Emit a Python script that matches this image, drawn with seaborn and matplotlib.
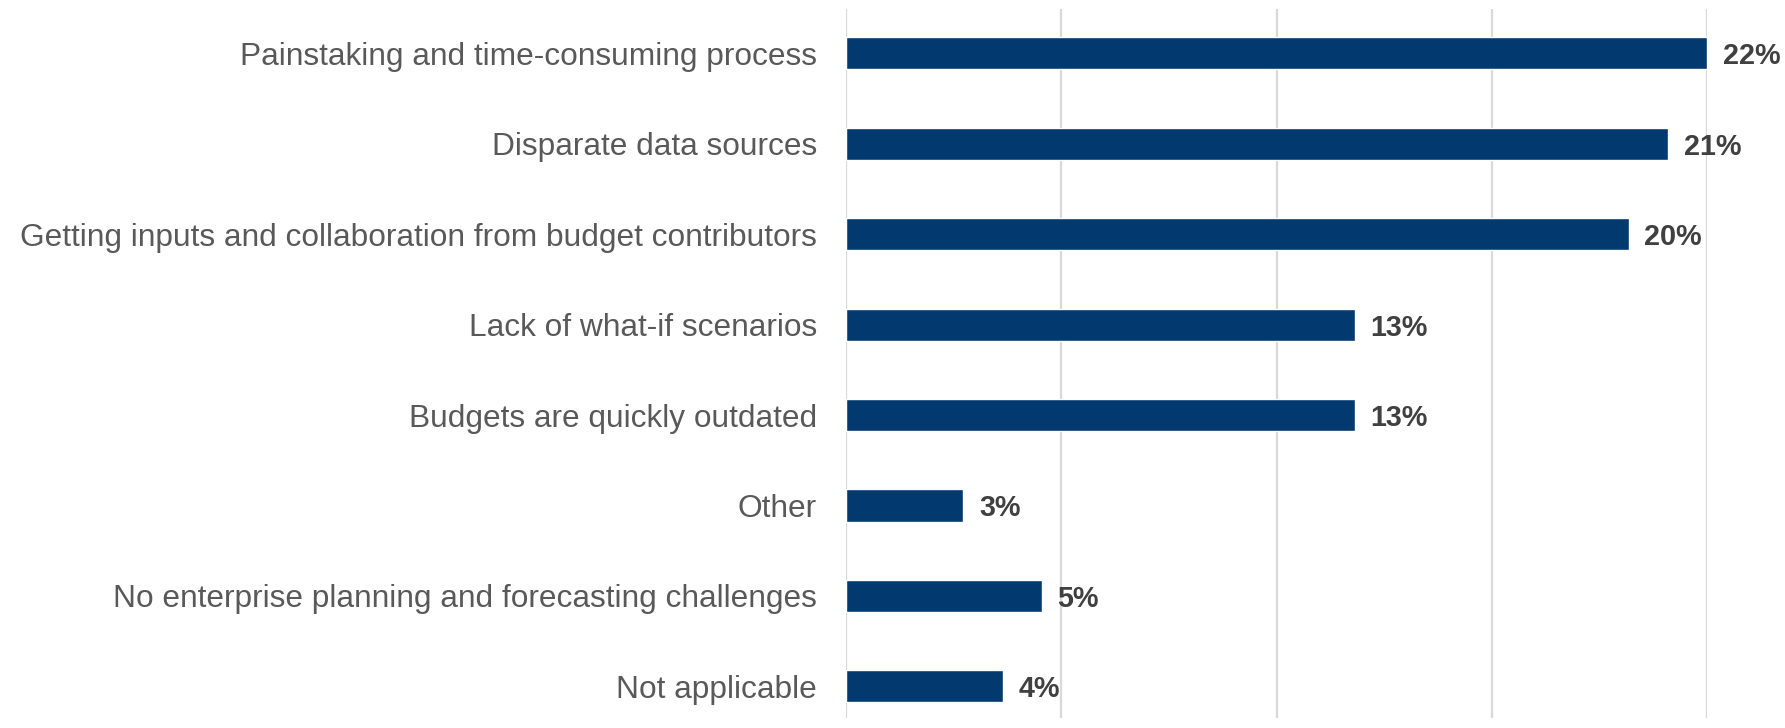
import matplotlib
matplotlib.use("Agg")
import matplotlib.pyplot as plt
import seaborn as sns
import pandas as pd

categories = [
    "Painstaking and time-consuming process",
    "Disparate data sources",
    "Getting inputs and collaboration from budget contributors",
    "Lack of what-if scenarios",
    "Budgets are quickly outdated",
    "Other",
    "No enterprise planning and forecasting challenges",
    "Not applicable",
]
shares = [22, 21, 20, 13, 13, 3, 5, 4]
grid_ticks = [0, 5.5, 11, 16.5, 22]

df = pd.DataFrame({"category": categories, "share": shares})

sns.set_theme(style="white")
plt.rcParams["font.family"] = ["Liberation Sans", "DejaVu Sans"]

W, H = 1785, 728
fig = plt.figure(figsize=(W / 100, H / 100), dpi=100)
ax = fig.add_axes([846 / W, 1 - 718 / H, (1707 - 846) / W, (718 - 9) / H])

sns.barplot(data=df, y="category", x="share", orient="h", color="#023a70",
            saturation=1, width=0.355, ax=ax, zorder=3)

ax.set_xlim(0, 22)
ax.set_ylim(7.35, -0.49)
ax.set_xticks(grid_ticks)
ax.set_xticklabels([])
ax.tick_params(axis="x", length=0)
ax.tick_params(axis="y", length=0, pad=21, labelsize=22.8, labelcolor="#595959")
ax.grid(axis="x", color="#d9d9d9", linewidth=1.6, zorder=0)
ax.grid(axis="y", visible=False)
for s in ax.spines.values():
    s.set_visible(False)
ax.set_xlabel("")
ax.set_ylabel("")

for i, v in enumerate(shares):
    ax.text(v + 0.4, i, f"{v}%", va="center_baseline", ha="left", fontsize=20.7,
            fontweight="bold", color="#404040", clip_on=False)

fig.savefig("out.png", dpi=100, facecolor="white")
